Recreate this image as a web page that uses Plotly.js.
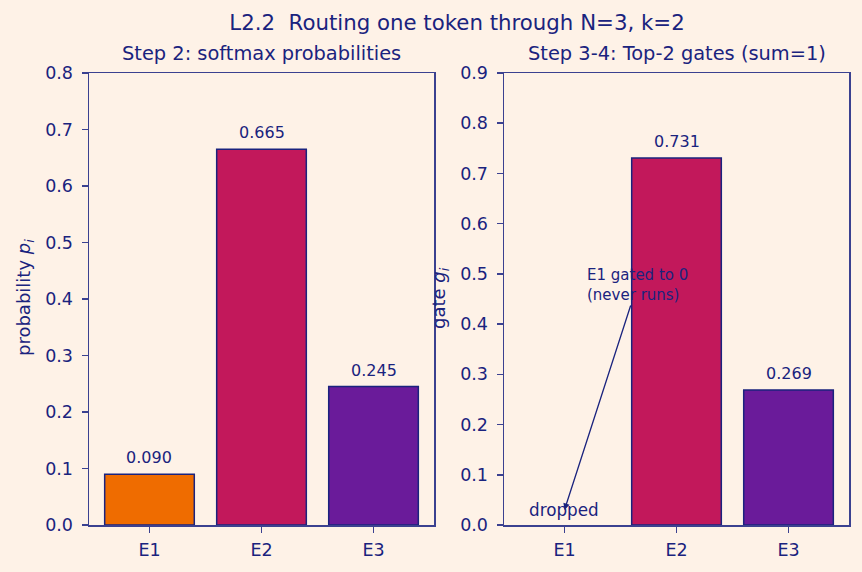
<!DOCTYPE html>
<html>
<head>
<meta charset="utf-8">
<script src="https://cdn.plot.ly/plotly-3.0.1.min.js"></script>
<style>html,body{margin:0;padding:0;background:#fef2e7;}#chart{width:862px;height:572px;}</style>
</head>
<body>
<div id="chart"></div>
<script>
const experts = ["E1", "E2", "E3"];
const softmaxProbs = [0.090, 0.665, 0.245];
const gates = [0.0, 0.731, 0.269];
const barColors = ["#ef6c00", "#c2185b", "#6a1b9a"];
const leftTicks = [0.0, 0.1, 0.2, 0.3, 0.4, 0.5, 0.6, 0.7, 0.8];
const rightTicks = [0.0, 0.1, 0.2, 0.3, 0.4, 0.5, 0.6, 0.7, 0.8, 0.9];

const navy = "#1a237e";
const spine = "#3b4190";
const bg = "#fef2e7";
const FONT = "DejaVu Sans, sans-serif";

const traces = [
  {type: "bar", x: experts, y: softmaxProbs, xaxis: "x", yaxis: "y", width: 0.8,
   marker: {color: barColors, line: {color: navy, width: 1.5}}, hoverinfo: "skip"},
  {type: "bar", x: experts, y: gates, xaxis: "x2", yaxis: "y2", width: 0.8,
   marker: {color: barColors, line: {color: navy, width: gates.map(v => v > 0 ? 1.5 : 0)}}, hoverinfo: "skip"}
];

const annotations = [];
softmaxProbs.forEach((v, i) => annotations.push({
  x: experts[i], y: v, xref: "x", yref: "y", text: v.toFixed(3), showarrow: false,
  yanchor: "bottom", yshift: 5, font: {family: FONT, size: 16, color: navy}
}));
gates.forEach((v, i) => { if (v > 0) annotations.push({
  x: experts[i], y: v, xref: "x2", yref: "y2", text: v.toFixed(3), showarrow: false,
  yanchor: "bottom", yshift: 5, font: {family: FONT, size: 16, color: navy}
}); });
annotations.push({x: "E1", y: 0.006, xref: "x2", yref: "y2", text: "dropped", showarrow: false,
  yanchor: "bottom", font: {family: FONT, size: 16.8, color: navy}});
annotations.push({x: 0, y: 0.03, xref: "x2", yref: "y2", axref: "x2", ayref: "y2", ax: 0.65, ay: 0.478,
  text: "E1 gated to 0<br>(never runs)", align: "left", showarrow: true, arrowhead: 2, arrowsize: 1,
  arrowwidth: 1.3, arrowcolor: navy, font: {family: FONT, size: 15, color: navy}});
// subplot titles
annotations.push({x: 261.5/862, y: 1 - 54/572, xref: "paper", yref: "paper", text: "Step 2: softmax probabilities",
  showarrow: false, xanchor: "center", yanchor: "middle", font: {family: FONT, size: 19.4, color: navy}});
annotations.push({x: 676.5/862, y: 1 - 54/572, xref: "paper", yref: "paper", text: "Step 3-4: Top-2 gates (sum=1)",
  showarrow: false, xanchor: "center", yanchor: "middle", font: {family: FONT, size: 19.4, color: navy}});
// axis titles
annotations.push({x: 25/862, y: 1 - 298/572, xref: "paper", yref: "paper", text: "probability <i>p</i><sub><i>i</i></sub>",
  showarrow: false, textangle: -90, xanchor: "center", yanchor: "middle", font: {family: FONT, size: 18, color: navy}});
annotations.push({x: 440/862, y: 1 - 298/572, xref: "paper", yref: "paper", text: "gate <i>g</i><sub><i>i</i></sub>",
  showarrow: false, textangle: -90, xanchor: "center", yanchor: "middle", font: {family: FONT, size: 18, color: navy}});

function xax(domain) {
  return {domain: domain, range: [-0.54, 2.54], type: "category", showline: true, mirror: true, linecolor: spine,
    linewidth: 1.5, ticks: "outside", ticklen: 6, tickwidth: 1.5, tickcolor: spine, showgrid: false, zeroline: false,
    ticklabelstandoff: 2, tickfont: {family: FONT, size: 17.5, color: navy}, fixedrange: true};
}
function yax(domain, range, ticks, anchor) {
  return {domain: domain, range: range, anchor: anchor, showline: true, mirror: true, linecolor: spine, linewidth: 1.5,
    ticks: "outside", ticklen: 6, tickwidth: 1.5, tickcolor: spine, showgrid: false, zeroline: false,
    ticklabelstandoff: 5, tickmode: "array", tickvals: ticks, ticktext: ticks.map(t => t.toFixed(1)),
    tickfont: {family: FONT, size: 17.5, color: navy}, fixedrange: true};
}

const yDom = [47/572, 1 - 73/572];
const layout = {
  width: 862, height: 572,
  margin: {l: 0, r: 0, t: 0, b: 0},
  paper_bgcolor: bg, plot_bgcolor: bg,
  showlegend: false,
  title: {text: "L2.2  Routing one token through N=3, k=2", x: 457/862, xanchor: "center", xref: "paper",
    y: 1 - 23/572, yanchor: "middle", yref: "container", font: {family: FONT, size: 21.3, color: navy}},
  xaxis: Object.assign(xax([89/862, 434/862]), {anchor: "y"}),
  yaxis: yax(yDom, [0, 0.8], leftTicks, "x"),
  xaxis2: Object.assign(xax([504/862, 849/862]), {anchor: "y2"}),
  yaxis2: yax(yDom, [0, 0.9], rightTicks, "x2"),
  annotations: annotations
};

Plotly.newPlot("chart", traces, layout, {displayModeBar: false, staticPlot: true});
</script>
</body>
</html>
